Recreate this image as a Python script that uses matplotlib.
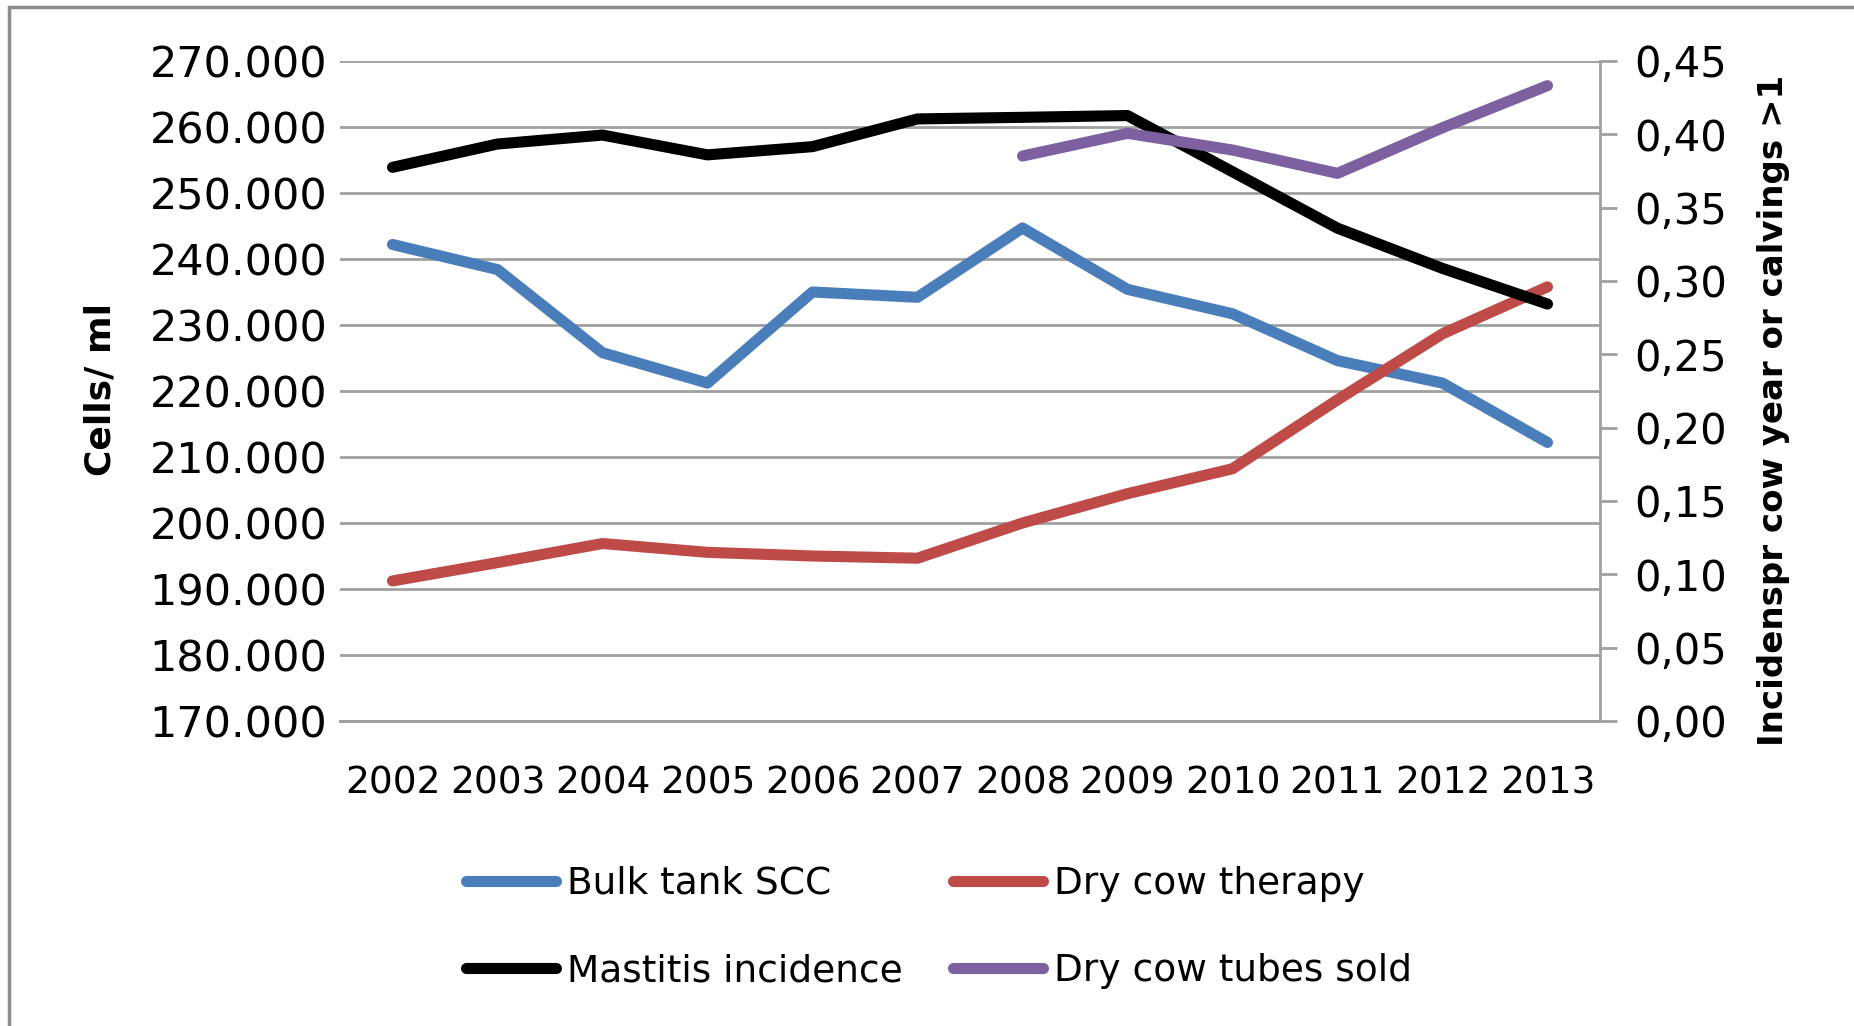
import matplotlib
matplotlib.use('Agg')
import matplotlib.pyplot as plt
from matplotlib.ticker import FuncFormatter, MultipleLocator
from matplotlib.patches import Rectangle

# data
years = ['2002', '2003', '2004', '2005', '2006', '2007',
         '2008', '2009', '2010', '2011', '2012', '2013']
bulk_scc = [242200, 238400, 225800, 221200, 235000, 234200,
            244700, 235400, 231700, 224600, 221200, 212200]
dry_cow_therapy = [0.0955, 0.108, 0.121, 0.115, 0.1125, 0.111,
                   0.135, 0.155, 0.172, 0.219, 0.264, 0.296]
mastitis = [0.3775, 0.3934, 0.3995, 0.386, 0.3916, 0.4105,
            0.4116, 0.4128, 0.3745, 0.336, 0.3086, 0.2843]
tube_years = ['2008', '2009', '2010', '2011', '2012', '2013']
tubes_sold = [0.3852, 0.4007, 0.3893, 0.3734, 0.4045, 0.4332]

BLUE = '#4a7ebb'
RED = '#be4b48'
BLACK = '#000000'
PURPLE = '#7d60a0'
GRID = '#a0a0a0'

plt.rcParams['font.family'] = 'DejaVu Sans'

fig = plt.figure(figsize=(18.54, 10.26), dpi=100)
ax = fig.add_axes([340 / 1854, 1 - 721 / 1026, 1260 / 1854, 660 / 1026])
ax2 = ax.twinx()

x = list(range(len(years)))
xt = [years.index(y) for y in tube_years]
lw = 8

l_blue, = ax.plot(x, bulk_scc, color=BLUE, lw=lw, label='Bulk tank SCC', solid_capstyle='round')
l_red, = ax2.plot(x, dry_cow_therapy, color=RED, lw=lw, label='Dry cow therapy', solid_capstyle='round')
l_black, = ax2.plot(x, mastitis, color=BLACK, lw=lw, label='Mastitis incidence', solid_capstyle='round')
l_purple, = ax2.plot(xt, tubes_sold, color=PURPLE, lw=lw, label='Dry cow tubes sold', solid_capstyle='round')

ax.set_xlim(-0.5, len(years) - 0.5)
ax.set_ylim(170000, 270000)
ax2.set_ylim(0, 0.45)
ax.set_xticks(x)
ax.set_xticklabels(years)
ax.yaxis.set_major_locator(MultipleLocator(10000))
ax2.yaxis.set_major_locator(MultipleLocator(0.05))
ax.yaxis.set_major_formatter(FuncFormatter(lambda v, p: '{:,.0f}'.format(v).replace(',', '.')))
ax2.yaxis.set_major_formatter(FuncFormatter(lambda v, p: '{:.2f}'.format(v).replace('.', ',')))

ax.grid(axis='y', color=GRID, lw=2)
ax.set_axisbelow(True)
for a in (ax, ax2):
    a.spines['top'].set_visible(False)
    a.spines['left'].set_visible(False)
    a.spines['bottom'].set_color(GRID)
    a.spines['bottom'].set_linewidth(2)
    a.spines['right'].set_visible(False)
ax2.spines['right'].set_visible(True)
ax2.spines['right'].set_color(GRID)
ax2.spines['right'].set_linewidth(2)

ax.tick_params(axis='y', length=0, labelsize=31, pad=9)
ax.tick_params(axis='x', length=0, labelsize=27, pad=32)
ax2.tick_params(axis='y', length=12, width=2, color=GRID, labelsize=30, pad=13)

fig.text(100 / 1854, 1 - 390 / 1026, 'Cells/ ml', rotation=90, fontsize=26,
         fontweight='bold', ha='center', va='center')
fig.text(1774 / 1854, 1 - 410 / 1026, 'Incidenspr cow year or calvings >1', rotation=90,
         fontsize=24.5, fontweight='bold', ha='center', va='center')

fig.legend([l_blue, l_black, l_red, l_purple],
           ['Bulk tank SCC', 'Mastitis incidence', 'Dry cow therapy', 'Dry cow tubes sold'],
           ncol=2, loc='upper left', bbox_to_anchor=(466 / 1854, 1 - 866 / 1026),
           frameon=False, fontsize=27, handlelength=2.4, handletextpad=0.3,
           labelspacing=1.36, columnspacing=1.32, borderpad=0, borderaxespad=0)

# outer chart border (only left/top edges visible in the crop)
fig.patches.append(Rectangle((9 / 1854, -0.1), 1.2, 1.1 - 7 / 1026,
                             transform=fig.transFigure, fill=False,
                             edgecolor='#8c8c8c', lw=2.5))

fig.savefig('out.png', dpi=100)
